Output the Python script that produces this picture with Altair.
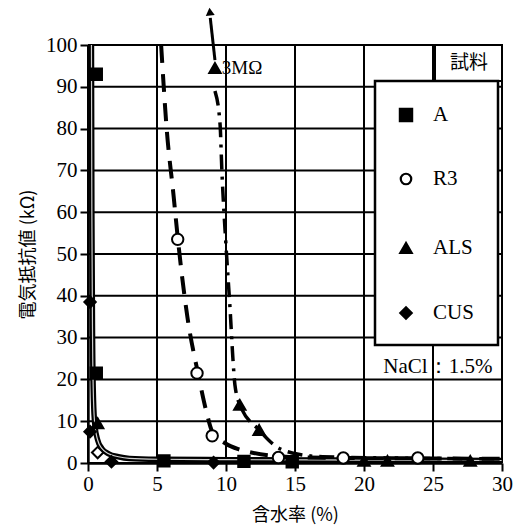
import altair as alt
import pandas as pd

# ---- data ----
series_names = ["A", "R3", "ALS", "CUS"]
series_shapes = ["square", "circle", "triangle-up", "diamond"]

A_x = [0.6, 0.6, 5.5, 11.3, 14.8]
A_y = [93.0, 21.5, 0.5, 0.4, 0.3]

R3_x = [6.5, 7.9, 9.0, 13.8, 18.5, 23.9]
R3_y = [53.5, 21.5, 6.5, 1.3, 1.2, 1.2]

ALS_x = [0.7, 9.2, 11.0, 12.4, 20.0, 21.7, 27.7]
ALS_y = [9.5, 94.5, 13.9, 7.9, 0.5, 0.5, 0.5]

CUS_x = [0.15, 0.15, 0.7, 1.7, 9.1]
CUS_y = [38.5, 7.5, 2.5, 0.3, 0.1]
CUS_fill = ["black", "black", "white", "black", "black"]

# fitted curves (as drawn)
A_curve_x = [0.25, 0.28, 0.33, 0.4, 0.5, 0.7, 1.0, 1.5, 2.2, 3.0, 5.0, 10.0, 20.0, 30.0]
A_curve_y = [100, 60, 30, 15, 9, 5.5, 3.5, 2.2, 1.5, 1.1, 0.9, 0.8, 0.7, 0.6]

R3_curve_x = [5.3, 5.7, 6.2, 6.5, 7.2, 8.0, 8.6, 9.0, 10.0, 11.0, 12.0, 13.8, 15.0, 18.5, 24.0, 30.0]
R3_curve_y = [100, 80, 64, 54, 35, 21, 12, 7.5, 4.6, 3.2, 2.4, 1.6, 1.4, 1.2, 1.1, 1.0]

ALS_curve_x = [9.2, 9.57, 9.7, 10.0, 10.3, 10.5, 10.65, 11.0, 12.4, 13.7, 14.8, 17.0, 22.0, 30.0]
ALS_curve_y = [89, 81, 70, 52, 36.6, 25, 18.6, 14, 7.9, 3.8, 2.4, 1.5, 1.2, 1.0]

arrow_x = [9.2, 8.86]
arrow_y = [96.4, 106.5]
arrow_head_x = [8.83]
arrow_head_y = [108.0]

x_ticks = [0, 5, 10, 15, 20, 25, 30]
y_ticks = [0, 10, 20, 30, 40, 50, 60, 70, 80, 90, 100]

# ---- tables ----
rows = []
for s, xs, ys in [("A", A_x, A_y), ("R3", R3_x, R3_y), ("ALS", ALS_x, ALS_y)]:
    for xv, yv in zip(xs, ys):
        rows.append({"series": s, "x": xv, "y": yv,
                     "fillc": "white" if s == "R3" else "black"})
for xv, yv, f in zip(CUS_x, CUS_y, CUS_fill):
    rows.append({"series": "CUS", "x": xv, "y": yv, "fillc": f})
pts = pd.DataFrame(rows)

a_curve = pd.DataFrame({"x": A_curve_x, "y": A_curve_y})
r3_curve = pd.DataFrame({"x": R3_curve_x, "y": R3_curve_y})
als_curve = pd.DataFrame({"x": ALS_curve_x, "y": ALS_curve_y})
arrow = pd.DataFrame({"x": arrow_x, "y": arrow_y})
arrow_head = pd.DataFrame({"x": arrow_head_x, "y": arrow_head_y})
xgrid = pd.DataFrame({"x": x_ticks})
ygrid = pd.DataFrame({"y": y_ticks})

serif = "Liberation Serif"
cjk = "Noto Sans CJK JP"

xscale = alt.Scale(domain=[0, 30], nice=False, zero=False)
yscale = alt.Scale(domain=[0, 100], nice=False, zero=False)

common_axis = dict(grid=False,
                   domainColor="black", domainWidth=2.4, tickColor="black", tickWidth=2, tickSize=8,
                   labelColor="black", titleColor="black", labelFont=serif, labelFontSize=21,
                   titleFont=cjk, titleFontSize=18, titleFontWeight="normal")

X = alt.X("x:Q", scale=xscale,
          axis=alt.Axis(values=x_ticks, title="含水率 (%)", titlePadding=12, labelPadding=2,
                        labelFlush=False, **common_axis))
Y = alt.Y("y:Q", scale=yscale,
          axis=alt.Axis(values=y_ticks, title="電気抵抗値 (kΩ)", titlePadding=8, labelPadding=3,
                        **common_axis))

layers = []
# grid lines
layers.append(alt.Chart(xgrid).mark_rule(color="black", strokeWidth=2).encode(x=X))
layers.append(alt.Chart(ygrid).mark_rule(color="black", strokeWidth=2).encode(y=Y))
# A: double line (black with thin light core)
layers.append(alt.Chart(a_curve).mark_line(color="black", strokeWidth=5.5, interpolate="monotone").encode(x="x:Q", y="y:Q"))
layers.append(alt.Chart(a_curve).mark_line(color="#cfcfcf", strokeWidth=1.2, interpolate="monotone").encode(x="x:Q", y="y:Q"))
layers.append(alt.Chart(r3_curve).mark_line(color="black", strokeWidth=4, strokeDash=[18, 11], interpolate="monotone").encode(x="x:Q", y="y:Q"))
layers.append(alt.Chart(als_curve).mark_line(color="black", strokeWidth=3.5, strokeDash=[15, 7, 3, 7], interpolate="monotone").encode(x="x:Q", y="y:Q"))
layers.append(alt.Chart(arrow).mark_line(color="black", strokeWidth=3, opacity=1, clip=False).encode(x="x:Q", y="y:Q"))
layers.append(alt.Chart(arrow_head).mark_point(shape="triangle-up", size=80, filled=True, color="black",
                                                opacity=1, angle=354, clip=False).encode(x="x:Q", y="y:Q"))

points = alt.Chart(pts).mark_point(filled=True, stroke="black", strokeWidth=2, size=130, opacity=1).encode(
    x="x:Q", y="y:Q",
    shape=alt.Shape("series:N", scale=alt.Scale(domain=series_names, range=series_shapes), legend=None),
    fill=alt.Fill("fillc:N", scale=None),
)

label3m = alt.Chart(pd.DataFrame({"x": [9.7], "y": [94.5], "t": ["3MΩ"]})).mark_text(
    align="left", baseline="middle", font=serif, fontSize=19, color="black").encode(x="x:Q", y="y:Q", text="t:N")
nacl = alt.Chart(pd.DataFrame({"x": [21.4], "y": [23.0], "t": ["NaCl：1.5%"]})).mark_text(
    align="left", baseline="middle", font=serif, fontSize=21, color="black", clip=False).encode(x="x:Q", y="y:Q", text="t:N")

# ---- legend (drawn box) ----
one = alt.Data(values=[{}])
legend_layers = []
legend_layers.append(alt.Chart(one).mark_rect(fill="white", stroke="black", strokeWidth=2).encode(
    x=alt.value(347), x2=alt.value(414), y=alt.value(0), y2=alt.value(36)))
legend_layers.append(alt.Chart(one).mark_text(font=cjk, fontSize=19, color="black", align="center", baseline="middle").encode(
    x=alt.value(381), y=alt.value(18), text=alt.value("試料")))
legend_layers.append(alt.Chart(one).mark_rect(fill="white", stroke="black", strokeWidth=2.5).encode(
    x=alt.value(287), x2=alt.value(410), y=alt.value(36), y2=alt.value(300)))
leg_y = [70, 134, 203, 268]
for name, shp, yy in zip(series_names, series_shapes, leg_y):
    fc = "white" if name == "R3" else "black"
    sz = 150 if shp == "square" else (110 if shp == "circle" else 130)
    legend_layers.append(alt.Chart(one).mark_point(shape=shp, filled=True, fill=fc, stroke="black",
                                                    strokeWidth=2.2, size=sz, opacity=1).encode(
        x=alt.value(318), y=alt.value(yy)))
    legend_layers.append(alt.Chart(one).mark_text(font=serif, fontSize=21, color="black", align="left", baseline="middle").encode(
        x=alt.value(345), y=alt.value(yy), text=alt.value(name)))

chart = alt.layer(*layers, points, label3m, nacl, *legend_layers).properties(
    width=414, height=418,
    autosize=alt.AutoSizeParams(type="none"),
    padding={"left": 88, "top": 45, "right": 19, "bottom": 68},
).configure_view(stroke="black", strokeWidth=2).configure(background="white")

chart.save("out.html", embed_options={"renderer": "svg", "actions": False})
